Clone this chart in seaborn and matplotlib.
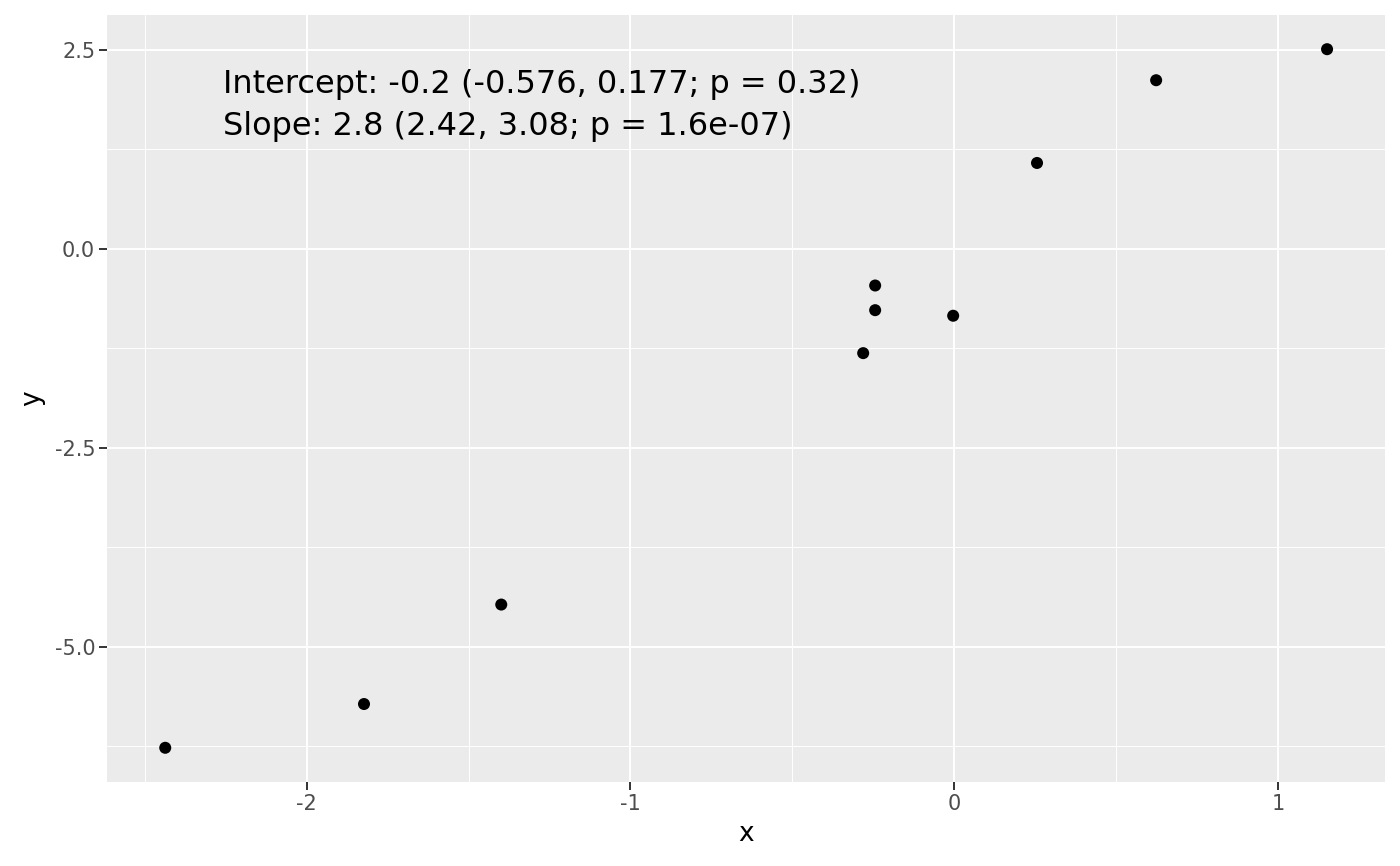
import matplotlib
matplotlib.use("Agg")
import matplotlib.pyplot as plt
import seaborn as sns
import pandas as pd
from matplotlib.ticker import MultipleLocator

# data
x = [-2.437, -1.823, -1.399, -0.281, -0.244, -0.244, -0.003, 0.256, 0.624, 1.152]
y = [-6.27, -5.72, -4.47, -1.31, -0.46, -0.77, -0.84, 1.08, 2.12, 2.51]
df = pd.DataFrame({"x": x, "y": y})

label_lines = ["Intercept: -0.2 (-0.576, 0.177; p = 0.32)",
               "Slope: 2.8 (2.42, 3.08; p = 1.6e-07)"]

sns.set_theme(style="white")
plt.rcParams["font.family"] = ["DejaVu Sans"]
plt.rcParams["axes.unicode_minus"] = False

fig = plt.figure(figsize=(14, 8.66), dpi=100)
ax = fig.add_axes([0.0764, 0.097, 0.9129, 0.8857])
ax.set_facecolor("#EBEBEB")

sns.scatterplot(data=df, x="x", y="y", ax=ax, color="black", s=75,
                edgecolor="none", zorder=3)

ax.set_xlim(-2.617, 1.331)
ax.set_ylim(-6.70, 2.94)
ax.xaxis.set_minor_locator(MultipleLocator(0.5))
ax.yaxis.set_minor_locator(MultipleLocator(1.25))
ax.set_yticks([2.5, 0, -2.5, -5])
ax.set_yticklabels(["2.5", "0.0", "-2.5", "-5.0"])
ax.set_xticks([-2, -1, 0, 1])
ax.set_xticklabels(["-2", "-1", "0", "1"])

ax.grid(which="major", color="white", linewidth=1.4, zorder=0)
ax.grid(which="minor", color="white", linewidth=0.7, zorder=0)
ax.set_axisbelow(True)
for s in ax.spines.values():
    s.set_visible(False)

ax.tick_params(which="major", length=5.5, width=1.4, color="#333333",
               labelsize=15, labelcolor="#4D4D4D", pad=3,
               bottom=True, left=True)
ax.tick_params(which="minor", length=0)

ax.set_xlabel("x", fontsize=19, color="black", labelpad=5)
ax.set_ylabel("y", fontsize=19, color="black", labelpad=7)

ax.text(-2.258, 2.06, label_lines[0], fontsize=23, va="center", ha="left",
        color="black")
ax.text(-2.258, 1.54, label_lines[1], fontsize=23, va="center", ha="left",
        color="black")

fig.savefig("out.png", dpi=100)
